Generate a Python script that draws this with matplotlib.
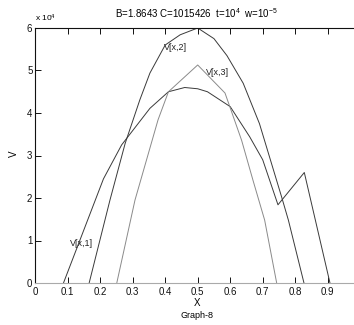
import matplotlib
matplotlib.use("Agg")
import matplotlib.pyplot as plt
from matplotlib.ticker import FuncFormatter

plt.rcParams['font.family'] = ['Liberation Sans', 'DejaVu Sans']
plt.rcParams['mathtext.default'] = 'regular'

# Curve data (x, V)
x1 = [0.087, 0.21, 0.266, 0.353, 0.41, 0.46, 0.50, 0.53, 0.60, 0.66, 0.70, 0.747, 0.828, 0.907]
v1 = [0, 24500, 32500, 41100, 45000, 46000, 45700, 45000, 41500, 34400, 29000, 18400, 26000, 0]

x2 = [0.166, 0.23, 0.277, 0.322, 0.353, 0.40, 0.446, 0.50, 0.55, 0.59, 0.64, 0.69, 0.758, 0.779, 0.827]
v2 = [0, 19500, 32900, 43100, 49400, 56000, 58400, 60000, 57500, 53500, 47000, 37500, 20300, 14800, 0]

x3 = [0.251, 0.307, 0.378, 0.41, 0.50, 0.584, 0.635, 0.67, 0.706, 0.743]
v3 = [0, 19500, 38400, 45000, 51300, 44700, 33600, 24200, 14800, 0]

labels = ["V[x,1]", "V[x,2]", "V[x,3]"]
label_pos = [(0.144, 9400), (0.432, 55500), (0.5625, 49500)]

xticks = [0, 0.1, 0.2, 0.3, 0.4, 0.5, 0.6, 0.7, 0.8, 0.9]
yticks = [0, 10000, 20000, 30000, 40000, 50000, 60000]

title = r"B=1.8643 C=1015426  t=10$^4$  w=10$^{-5}$"
xlabel = "X"
ylabel = "V"
caption = "Graph-8"

fig = plt.figure(figsize=(3.54, 3.25), dpi=100)
ax = fig.add_axes([35.2/354, 1-283/325, 325/354, 255/325])

ax.plot(x1, v1, color="#3a3a3a", lw=0.7)
ax.plot(x2, v2, color="#3a3a3a", lw=0.7)
ax.plot(x3, v3, color="#8a8a8a", lw=0.7)

for lab, (lx, ly) in zip(labels, label_pos):
    ax.text(lx, ly, lab, fontsize=6.5, ha="center", va="center", color="#222222")

ax.set_xlim(0, 1)
ax.set_ylim(0, 60000)
ax.set_xticks(xticks)
ax.set_yticks(yticks)
ax.xaxis.set_major_formatter(FuncFormatter(lambda v, p: "0" if abs(v) < 1e-9 else f"{v:.1f}"))
ax.yaxis.set_major_formatter(FuncFormatter(lambda v, p: f"{v/1e4:.0f}"))
ax.tick_params(direction="in", length=4, width=0.7, top=True, right=True,
               labelsize=7, pad=2, colors="#111111")
ax.tick_params(axis="x", pad=3)
for s in ["left", "top", "right"]:
    ax.spines[s].set_color("#111111")
    ax.spines[s].set_linewidth(0.8)
ax.spines["bottom"].set_color("#aaaaaa")
ax.spines["bottom"].set_linewidth(0.8)

fig.text(196/354, 1-13/325, title, fontsize=7, ha="center", va="center")
fig.text(35/354, 1-18.5/325, r"x 10$^4$", fontsize=6, ha="left", va="center")
fig.text(196.7/354, 1-303.5/325, xlabel, fontsize=7, ha="center", va="center")
fig.text(197/354, 1-315/325, caption, fontsize=6.5, ha="center", va="center")
fig.text(14/354, 1-154/325, ylabel, fontsize=7, ha="center", va="center", rotation=90)

fig.savefig("out.png", dpi=100)
